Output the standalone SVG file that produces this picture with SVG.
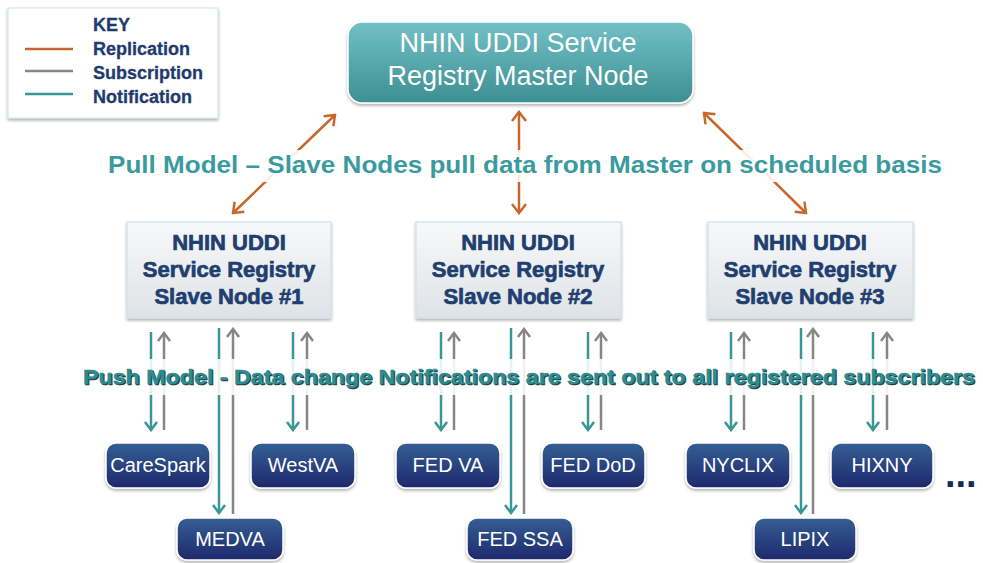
<svg xmlns="http://www.w3.org/2000/svg" width="983" height="563" viewBox="0 0 983 563">
<style>
.key{font-family:"Liberation Sans",Arial,sans-serif;font-weight:bold;font-size:18px;fill:#1f3b6e;stroke:#1f3b6e;stroke-width:0.3}
.mt{font-family:"Liberation Sans",Arial,sans-serif;font-size:27px;fill:#ffffff;text-anchor:middle}
.st{font-family:"Liberation Sans",Arial,sans-serif;font-weight:bold;font-size:22px;fill:#1f3f70;stroke:#1f3f70;stroke-width:0.7;text-anchor:middle}
.bt{font-family:"Liberation Sans",Arial,sans-serif;font-size:20px;fill:#ffffff;text-anchor:middle}
.big{font-family:"Liberation Sans",Arial,sans-serif;font-weight:bold;text-anchor:middle}
.tl{stroke:#3a9696;stroke-width:2.5;fill:none}
.gl{stroke:#868686;stroke-width:2.5;fill:none}
.ol{stroke:#c8672b;stroke-width:2.5;fill:none}
.bn{fill:url(#gNavy);stroke:#ffffff;stroke-width:1.5;filter:url(#sh)}
.sn{fill:url(#gSlave);stroke:#cfe0ea;stroke-width:1.2;filter:url(#sh)}
</style>
<defs>
<linearGradient id="gMaster" x1="0" y1="0" x2="0" y2="1"><stop offset="0" stop-color="#72c0c5"/><stop offset="1" stop-color="#3d8f94"/></linearGradient>
<linearGradient id="gSlave" x1="0" y1="0" x2="0" y2="1"><stop offset="0" stop-color="#f7f8f9"/><stop offset="1" stop-color="#dfe3e7"/></linearGradient>
<linearGradient id="gNavy" x1="0" y1="0" x2="0" y2="1"><stop offset="0" stop-color="#355f94"/><stop offset="1" stop-color="#1e286c"/></linearGradient>
<filter id="sh" x="-10%" y="-10%" width="120%" height="130%"><feDropShadow dx="0" dy="2" stdDeviation="1.5" flood-color="#000" flood-opacity="0.3"/></filter>
<marker id="aT" viewBox="0 0 14 14" refX="12" refY="7" markerWidth="14" markerHeight="14" markerUnits="userSpaceOnUse" orient="auto"><path d="M4,1 L12,7 L4,13" fill="none" stroke="#3a9696" stroke-width="2.5"/></marker>
<marker id="aG" viewBox="0 0 14 14" refX="12" refY="7" markerWidth="14" markerHeight="14" markerUnits="userSpaceOnUse" orient="auto"><path d="M4,1 L12,7 L4,13" fill="none" stroke="#868686" stroke-width="2.5"/></marker>
<marker id="aO" viewBox="0 0 16 16" refX="14" refY="8" markerWidth="16" markerHeight="16" markerUnits="userSpaceOnUse" orient="auto-start-reverse"><path d="M5,1 L14,8 L5,15" fill="none" stroke="#c8672b" stroke-width="2.5"/></marker>
</defs>
<rect width="983" height="563" fill="#ffffff"/>

<g id="key">
<rect x="8" y="8" width="210" height="110" fill="#ffffff" stroke="#d3e6ec" stroke-width="1.2" filter="url(#sh)"/>
<line x1="25" y1="49" x2="73" y2="49" class="ol"/>
<line x1="25" y1="71" x2="73" y2="71" class="gl"/>
<line x1="25" y1="94" x2="73" y2="94" class="tl"/>
<text x="93" y="31" class="key">KEY</text>
<text x="93" y="55" class="key">Replication</text>
<text x="93" y="79" class="key">Subscription</text>
<text x="93" y="103" class="key">Notification</text>
</g>

<g id="connectors">
<line x1="335" y1="115" x2="233" y2="213" class="ol" marker-start="url(#aO)" marker-end="url(#aO)"/>
<line x1="519" y1="112" x2="519" y2="213" class="ol" marker-start="url(#aO)" marker-end="url(#aO)"/>
<line x1="704" y1="113" x2="806" y2="213" class="ol" marker-start="url(#aO)" marker-end="url(#aO)"/>

<line x1="151" y1="332" x2="151" y2="430" class="tl" marker-end="url(#aT)"/>
<line x1="164" y1="430" x2="164" y2="333" class="gl" marker-end="url(#aG)"/>
<line x1="219" y1="328" x2="219" y2="513" class="tl" marker-end="url(#aT)"/>
<line x1="233" y1="514" x2="233" y2="329" class="gl" marker-end="url(#aG)"/>
<line x1="293" y1="332" x2="293" y2="430" class="tl" marker-end="url(#aT)"/>
<line x1="307" y1="430" x2="307" y2="333" class="gl" marker-end="url(#aG)"/>

<line x1="441" y1="332" x2="441" y2="430" class="tl" marker-end="url(#aT)"/>
<line x1="454" y1="430" x2="454" y2="333" class="gl" marker-end="url(#aG)"/>
<line x1="511" y1="328" x2="511" y2="513" class="tl" marker-end="url(#aT)"/>
<line x1="524" y1="514" x2="524" y2="329" class="gl" marker-end="url(#aG)"/>
<line x1="588" y1="332" x2="588" y2="430" class="tl" marker-end="url(#aT)"/>
<line x1="601" y1="430" x2="601" y2="333" class="gl" marker-end="url(#aG)"/>

<line x1="731" y1="332" x2="731" y2="430" class="tl" marker-end="url(#aT)"/>
<line x1="744" y1="430" x2="744" y2="333" class="gl" marker-end="url(#aG)"/>
<line x1="801" y1="328" x2="801" y2="513" class="tl" marker-end="url(#aT)"/>
<line x1="813" y1="514" x2="813" y2="329" class="gl" marker-end="url(#aG)"/>
<line x1="873" y1="332" x2="873" y2="430" class="tl" marker-end="url(#aT)"/>
<line x1="887" y1="430" x2="887" y2="333" class="gl" marker-end="url(#aG)"/>
</g>

<g id="pull-label">
<rect x="100" y="150" width="850" height="32" fill="#ffffff" opacity="0.88"/>
<text x="525" y="173" class="big" font-size="23" fill="#3a9a9e" stroke="#ffffff" stroke-width="3" paint-order="stroke" textLength="834" lengthAdjust="spacingAndGlyphs">Pull Model – Slave Nodes pull data from Master on scheduled basis</text>
</g>

<g id="push-label">
<rect x="78" y="359" width="902" height="36" fill="#ffffff" opacity="0.88"/>
<text x="530" y="385" class="big" font-size="21" fill="#1d3d40" stroke="#1d3d40" stroke-width="0.6" textLength="892" lengthAdjust="spacingAndGlyphs">Push Model - Data change Notifications are sent out to all registered subscribers</text>
<text x="529" y="384" class="big" font-size="21" fill="#2e8b8f" stroke="#2e8b8f" stroke-width="0.5" textLength="892" lengthAdjust="spacingAndGlyphs">Push Model - Data change Notifications are sent out to all registered subscribers</text>
</g>

<g id="master">
<rect x="348" y="22" width="345" height="81" rx="14" fill="url(#gMaster)" stroke="#ffffff" stroke-width="1.5" filter="url(#sh)"/>
<text x="518" y="52" class="mt">NHIN UDDI Service</text>
<text x="518" y="85" class="mt">Registry Master Node</text>
</g>

<g id="slave1">
<rect x="127" y="222" width="204" height="96" class="sn"/>
<text x="229" y="250" class="st">NHIN UDDI</text>
<text x="229" y="277" class="st">Service Registry</text>
<text x="229" y="304" class="st">Slave Node #1</text>
</g>
<g id="slave2">
<rect x="416" y="222" width="205" height="96" class="sn"/>
<text x="518" y="250" class="st">NHIN UDDI</text>
<text x="518" y="277" class="st">Service Registry</text>
<text x="518" y="304" class="st">Slave Node #2</text>
</g>
<g id="slave3">
<rect x="708" y="222" width="205" height="96" class="sn"/>
<text x="810" y="250" class="st">NHIN UDDI</text>
<text x="810" y="277" class="st">Service Registry</text>
<text x="810" y="304" class="st">Slave Node #3</text>
</g>

<g id="carespark"><rect x="106" y="443" width="104" height="45" rx="10" class="bn"/><text x="158" y="472" class="bt">CareSpark</text></g>
<g id="westva"><rect x="251" y="443" width="104" height="45" rx="10" class="bn"/><text x="303" y="472" class="bt">WestVA</text></g>
<g id="medva"><rect x="177" y="518" width="106" height="42" rx="10" class="bn"/><text x="230" y="546" class="bt">MEDVA</text></g>
<g id="fedva"><rect x="396" y="443" width="104" height="45" rx="10" class="bn"/><text x="448" y="472" class="bt">FED VA</text></g>
<g id="feddod"><rect x="542" y="443" width="103" height="45" rx="10" class="bn"/><text x="593" y="472" class="bt">FED DoD</text></g>
<g id="fedssa"><rect x="467" y="518" width="106" height="42" rx="10" class="bn"/><text x="520" y="546" class="bt">FED SSA</text></g>
<g id="nyclix"><rect x="686" y="443" width="104" height="45" rx="10" class="bn"/><text x="738" y="472" class="bt">NYCLIX</text></g>
<g id="hixny"><rect x="831" y="443" width="102" height="45" rx="10" class="bn"/><text x="882" y="472" class="bt">HIXNY</text></g>
<g id="lipix"><rect x="754" y="518" width="102" height="42" rx="10" class="bn"/><text x="805" y="546" class="bt">LIPIX</text></g>

<text x="945" y="487" font-family="Liberation Sans, Arial, sans-serif" font-weight="bold" font-size="38" fill="#1a2a55">...</text>
</svg>
